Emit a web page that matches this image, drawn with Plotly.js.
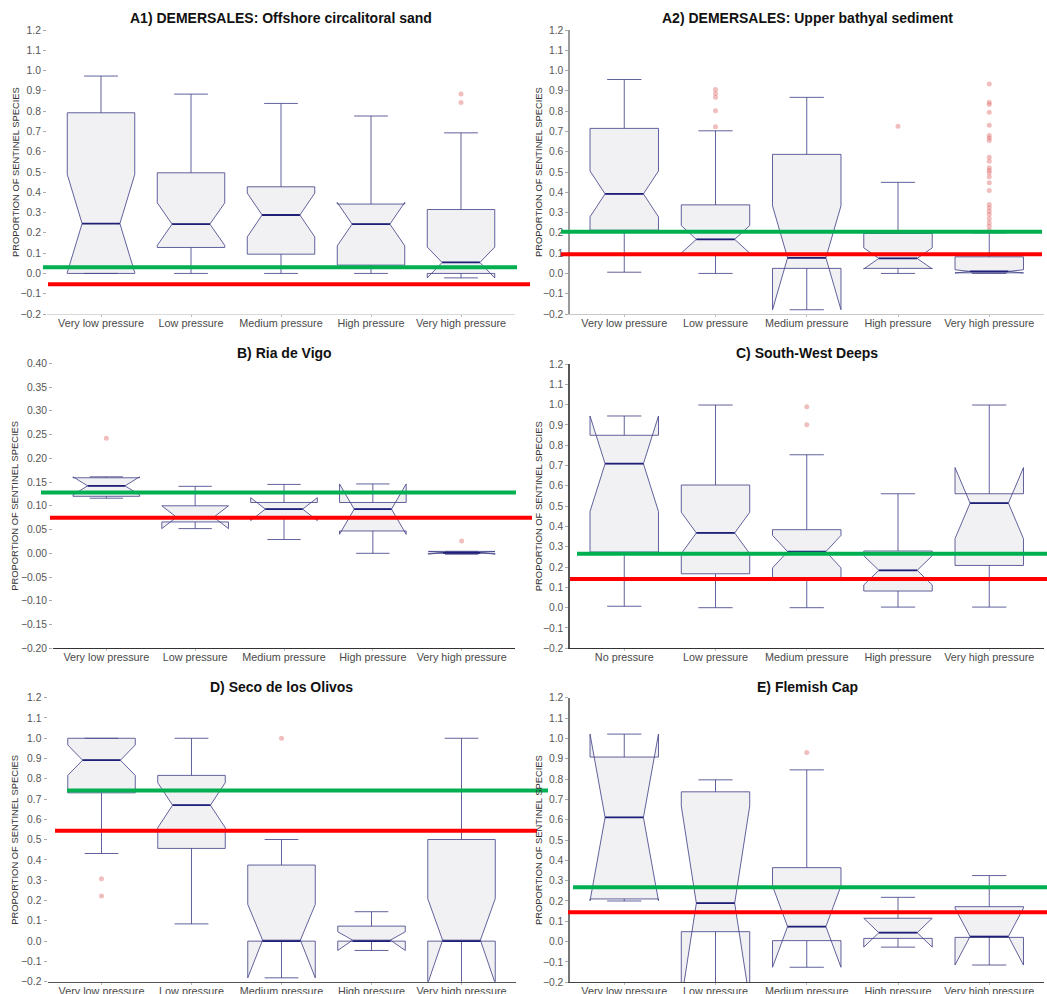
<!DOCTYPE html>
<html>
<head>
<meta charset="utf-8">
<script src="https://cdn.plot.ly/plotly-3.0.1.min.js"></script>
<style>html,body{margin:0;padding:0;background:#fff;}#chart{width:1047px;height:994px;}</style>
</head>
<body>
<div id="chart"></div>
<script>
// ---------------- DATA ----------------
const catsPressure = ['Very low pressure','Low pressure','Medium pressure','High pressure','Very high pressure'];
const catsSouthWest = ['No pressure','Low pressure','Medium pressure','High pressure','Very high pressure'];
const panelTitles = ['A1) DEMERSALES: Offshore circalitoral sand','A2) DEMERSALES: Upper bathyal sediment','B) Ria de Vigo','C) South-West Deeps','D) Seco de los Olivos','E) Flemish Cap'];
const yTitle = 'PROPORTION OF SENTINEL SPECIES';

// A1
const a1Q1 = [0.0, 0.128, 0.095, 0.041, 0.0];
const a1Med = [0.246, 0.243, 0.288, 0.243, 0.054];
const a1Q3 = [0.792, 0.496, 0.427, 0.342, 0.315];
const a1Lo = [0.0, 0.0, 0.0, 0.0, 0.0];
const a1Hi = [0.973, 0.884, 0.838, 0.776, 0.693];
const a1Notch = [0.242, 0.105, 0.108, 0.107, 0.076];
const a1Out = [[], [], [], [], [0.884, 0.843]];
// A2
const a2Q1 = [0.213, 0.099, 0.025, 0.025, 0.003];
const a2Med = [0.392, 0.168, 0.077, 0.074, 0.010];
const a2Q3 = [0.715, 0.338, 0.587, 0.197, 0.082];
const a2Lo = [0.006, 0.0, 0.0, 0.0, 0.0];
const a2Hi = [0.956, 0.703, 0.868, 0.449, 0.200];
const a2Notch = [0.113, 0.068, 0.256, 0.052, 0.008];
const a2Out = [[], [0.907, 0.887, 0.868, 0.802, 0.723], [], [0.726],
  [0.934, 0.844, 0.833, 0.795, 0.731, 0.680, 0.668, 0.655, 0.573, 0.553, 0.521, 0.509, 0.496, 0.476, 0.447, 0.409, 0.340, 0.324, 0.307, 0.291, 0.269, 0.250, 0.233, 0.213]];
// B
const bQ1 = [0.120, 0.066, 0.077, 0.047, 0.0];
const bMed = [0.142, 0.076, 0.093, 0.093, 0.001];
const bQ3 = [0.159, 0.100, 0.107, 0.107, 0.004];
const bLo = [0.116, 0.064, 0.029, 0.0, 0.0];
const bHi = [0.159, 0.141, 0.145, 0.121, 0.004];
const bNotch = [0.019, 0.024, 0.024, 0.053, 0.003];
const bOut = [[0.242], [], [], [], [0.026]];
// C
const cQ1 = [0.274, 0.167, 0.143, 0.082, 0.208];
const cMed = [0.709, 0.368, 0.276, 0.184, 0.515];
const cQ3 = [0.849, 0.604, 0.384, 0.279, 0.561];
const cLo = [0.007, 0.0, 0.0, 0.003, 0.003];
const cHi = [0.942, 0.998, 0.753, 0.561, 0.998];
const cNotch = [0.235, 0.102, 0.080, 0.072, 0.175];
const cOut = [[], [], [0.990, 0.901], [], []];
// D
const dQ1 = [0.731, 0.457, 0.0, 0.0, 0.0];
const dMed = [0.892, 0.670, 0.0, 0.0, 0.0];
const dQ3 = [1.0, 0.817, 0.375, 0.074, 0.501];
const dLo = [0.432, 0.085, 0.0, 0.0, 0.0];
const dHi = [1.0, 1.0, 0.501, 0.145, 1.0];
const dNotch = [0.075, 0.111, 0.181, 0.046, 0.209];
const dOut = [[0.307, 0.222], [], [1.0], [], []];
// E
const eQ1 = [0.21, 0.049, 0.005, 0.016, 0.021];
const eMed = [0.611, 0.189, 0.074, 0.044, 0.025];
const eQ3 = [0.908, 0.737, 0.364, 0.115, 0.172];
const eLo = [0.20, 0.041, 0.005, 0.008, 0.021];
const eHi = [0.919, 0.796, 0.845, 0.218, 0.325];
const eNotch = [0.41, 0.479, 0.20, 0.071, 0.14];
const eOut = [[], [], [0.931], [], []];
// reference lines
const greenLine = [0.030, 0.205, 0.128, 0.266, 0.743, 0.268];
const redLine = [-0.053, 0.094, 0.075, 0.141, 0.544, 0.144];

// ---------------- LAYOUT ----------------
const W = 1047, H = 994;
const px = v => v / W;
const py = v => 1 - v / H;
const FONT = 'Liberation Sans, Arial, sans-serif';
const boxWidth = 0.75, notchW = 0.22;

const panels = [
  {q1:a1Q1, med:a1Med, q3:a1Q3, lo:a1Lo, hi:a1Hi, notch:a1Notch, out:a1Out, cats:catsPressure,
   dx:[47,515], dy:[30,314], range:[-0.2,1.2], dtick:0.1, fmt:'.1f', left:null, bottom:'#d9d9d9',
   tx:281, ty:18, ytx:15, g:[43,517], r:[48,530]},
  {q1:a2Q1, med:a2Med, q3:a2Q3, lo:a2Lo, hi:a2Hi, notch:a2Notch, out:a2Out, cats:catsPressure,
   dx:[569.5,1044], dy:[30,314], range:[-0.2,1.2], dtick:0.1, fmt:'.1f', left:'#9a9a9a', bottom:'#c8c8c8',
   tx:807.5, ty:18, ytx:538, g:[561,1042], r:[561,1042]},
  {q1:bQ1, med:bMed, q3:bQ3, lo:bLo, hi:bHi, notch:bNotch, out:bOut, cats:catsPressure,
   dx:[53,515], dy:[363.3,648.3], range:[-0.2,0.4], dtick:0.05, fmt:'.2f', left:null, bottom:'#333333',
   tx:284, ty:352.7, ytx:15, g:[41,516], r:[50,532]},
  {q1:cQ1, med:cMed, q3:cQ3, lo:cLo, hi:cHi, notch:cNotch, out:cOut, cats:catsSouthWest,
   dx:[569.5,1044], dy:[364,648.3], range:[-0.2,1.2], dtick:0.1, fmt:'.1f', left:'#555555', bottom:'#333333',
   tx:807, ty:352.7, ytx:538, g:[577,1047], r:[570,1047]},
  {q1:dQ1, med:dMed, q3:dQ3, lo:dLo, hi:dHi, notch:dNotch, out:dOut, cats:catsPressure,
   dx:[47.5,515.5], dy:[697.7,981.7], range:[-0.2,1.2], dtick:0.1, fmt:'.1f', left:null, bottom:'#555555',
   tx:281, ty:686.7, ytx:15, g:[67,548], r:[55,537]},
  {q1:eQ1, med:eMed, q3:eQ3, lo:eLo, hi:eHi, notch:eNotch, out:eOut, cats:catsPressure,
   dx:[569.5,1044], dy:[697.7,982.3], range:[-0.2,1.2], dtick:0.1, fmt:'.1f', left:'#777777', bottom:'#444444',
   tx:807, ty:686.7, ytx:538, g:[573,1047], r:[568,1047]}
];

const traces = [];
const layout = {
  width: W, height: H, margin: {l:0, r:0, t:0, b:0},
  paper_bgcolor: '#ffffff', plot_bgcolor: '#ffffff',
  showlegend: false, hovermode: false,
  font: {family: FONT, color: '#444'},
  annotations: [], shapes: []
};

panels.forEach((p, k) => {
  const n = k + 1;
  const xa = n === 1 ? 'x' : 'x' + n;
  const ya = n === 1 ? 'y' : 'y' + n;
  const xKey = n === 1 ? 'xaxis' : 'xaxis' + n;
  const yKey = n === 1 ? 'yaxis' : 'yaxis' + n;
  const pos = p.cats.map((c, i) => i);

  traces.push({
    type: 'box', orientation: 'v', xaxis: xa, yaxis: ya,
    x: pos, q1: p.q1, median: p.med, q3: p.q3,
    lowerfence: p.lo, upperfence: p.hi, notchspan: p.notch,
    notched: true, notchwidth: notchW, width: boxWidth, boxpoints: false,
    fillcolor: 'rgb(241,241,244)',
    line: {color: 'rgba(70,70,140,0.85)', width: 1},
    hoverinfo: 'skip'
  });

  // median segments (between the notch tips)
  const hw = boxWidth / 2 * (1 - 2 * notchW);
  const mx = [], my = [];
  pos.forEach((x, i) => { mx.push(x - hw, x + hw, null); my.push(p.med[i], p.med[i], null); });
  traces.push({type: 'scatter', mode: 'lines', xaxis: xa, yaxis: ya, x: mx, y: my,
    line: {color: '#1f1f78', width: 1.8}, hoverinfo: 'skip', cliponaxis: true});

  // outliers
  const ox = [], oy = [];
  p.out.forEach((arr, i) => arr.forEach(v => { ox.push(i); oy.push(v); }));
  traces.push({type: 'scatter', mode: 'markers', xaxis: xa, yaxis: ya, x: ox, y: oy,
    marker: {color: 'rgba(225,110,110,0.45)', size: 5, line: {width: 0}}, hoverinfo: 'skip'});

  layout[xKey] = {
    domain: [px(p.dx[0]), px(p.dx[1])], anchor: ya,
    range: [-0.6, 4.6], tickvals: pos, ticktext: p.cats,
    showgrid: false, zeroline: false,
    showline: true, linecolor: p.bottom, linewidth: 1,
    ticks: 'outside', ticklen: 2, tickcolor: '#bbbbbb',
    ticklabelstandoff: -3,
    tickfont: {size: 10.8, color: '#4a4a4a', family: FONT},
    fixedrange: true
  };
  layout[yKey] = {
    domain: [py(p.dy[1]), py(p.dy[0])], anchor: xa,
    range: p.range, tick0: 0, dtick: p.dtick, tickformat: p.fmt,
    showgrid: false, zeroline: false,
    showline: !!p.left, linecolor: p.left || '#ffffff', linewidth: 1.2,
    ticks: 'outside', ticklen: 3, tickcolor: '#aaaaaa',
    tickfont: {size: 10.3, color: '#555555', family: FONT},
    fixedrange: true
  };

  layout.annotations.push({
    xref: 'paper', yref: 'paper', x: px(p.tx), y: py(p.ty),
    xanchor: 'center', yanchor: 'middle', showarrow: false,
    text: '<b>' + panelTitles[k] + '</b>',
    font: {size: 14, color: '#111111', family: FONT}
  });
  layout.annotations.push({
    xref: 'paper', yref: 'paper', x: px(p.ytx), y: py((p.dy[0] + p.dy[1]) / 2),
    xanchor: 'center', yanchor: 'middle', showarrow: false, textangle: -90,
    text: yTitle, font: {size: 9.4, color: '#333333', family: FONT}
  });

  layout.shapes.push({type: 'line', xref: 'paper', yref: ya,
    x0: px(p.g[0]), x1: px(p.g[1]), y0: greenLine[k], y1: greenLine[k],
    line: {color: '#00b050', width: 4}});
  layout.shapes.push({type: 'line', xref: 'paper', yref: ya,
    x0: px(p.r[0]), x1: px(p.r[1]), y0: redLine[k], y1: redLine[k],
    line: {color: '#ff0000', width: 4}});
});

Plotly.newPlot('chart', traces, layout, {staticPlot: true, displayModeBar: false});
</script>
</body>
</html>
